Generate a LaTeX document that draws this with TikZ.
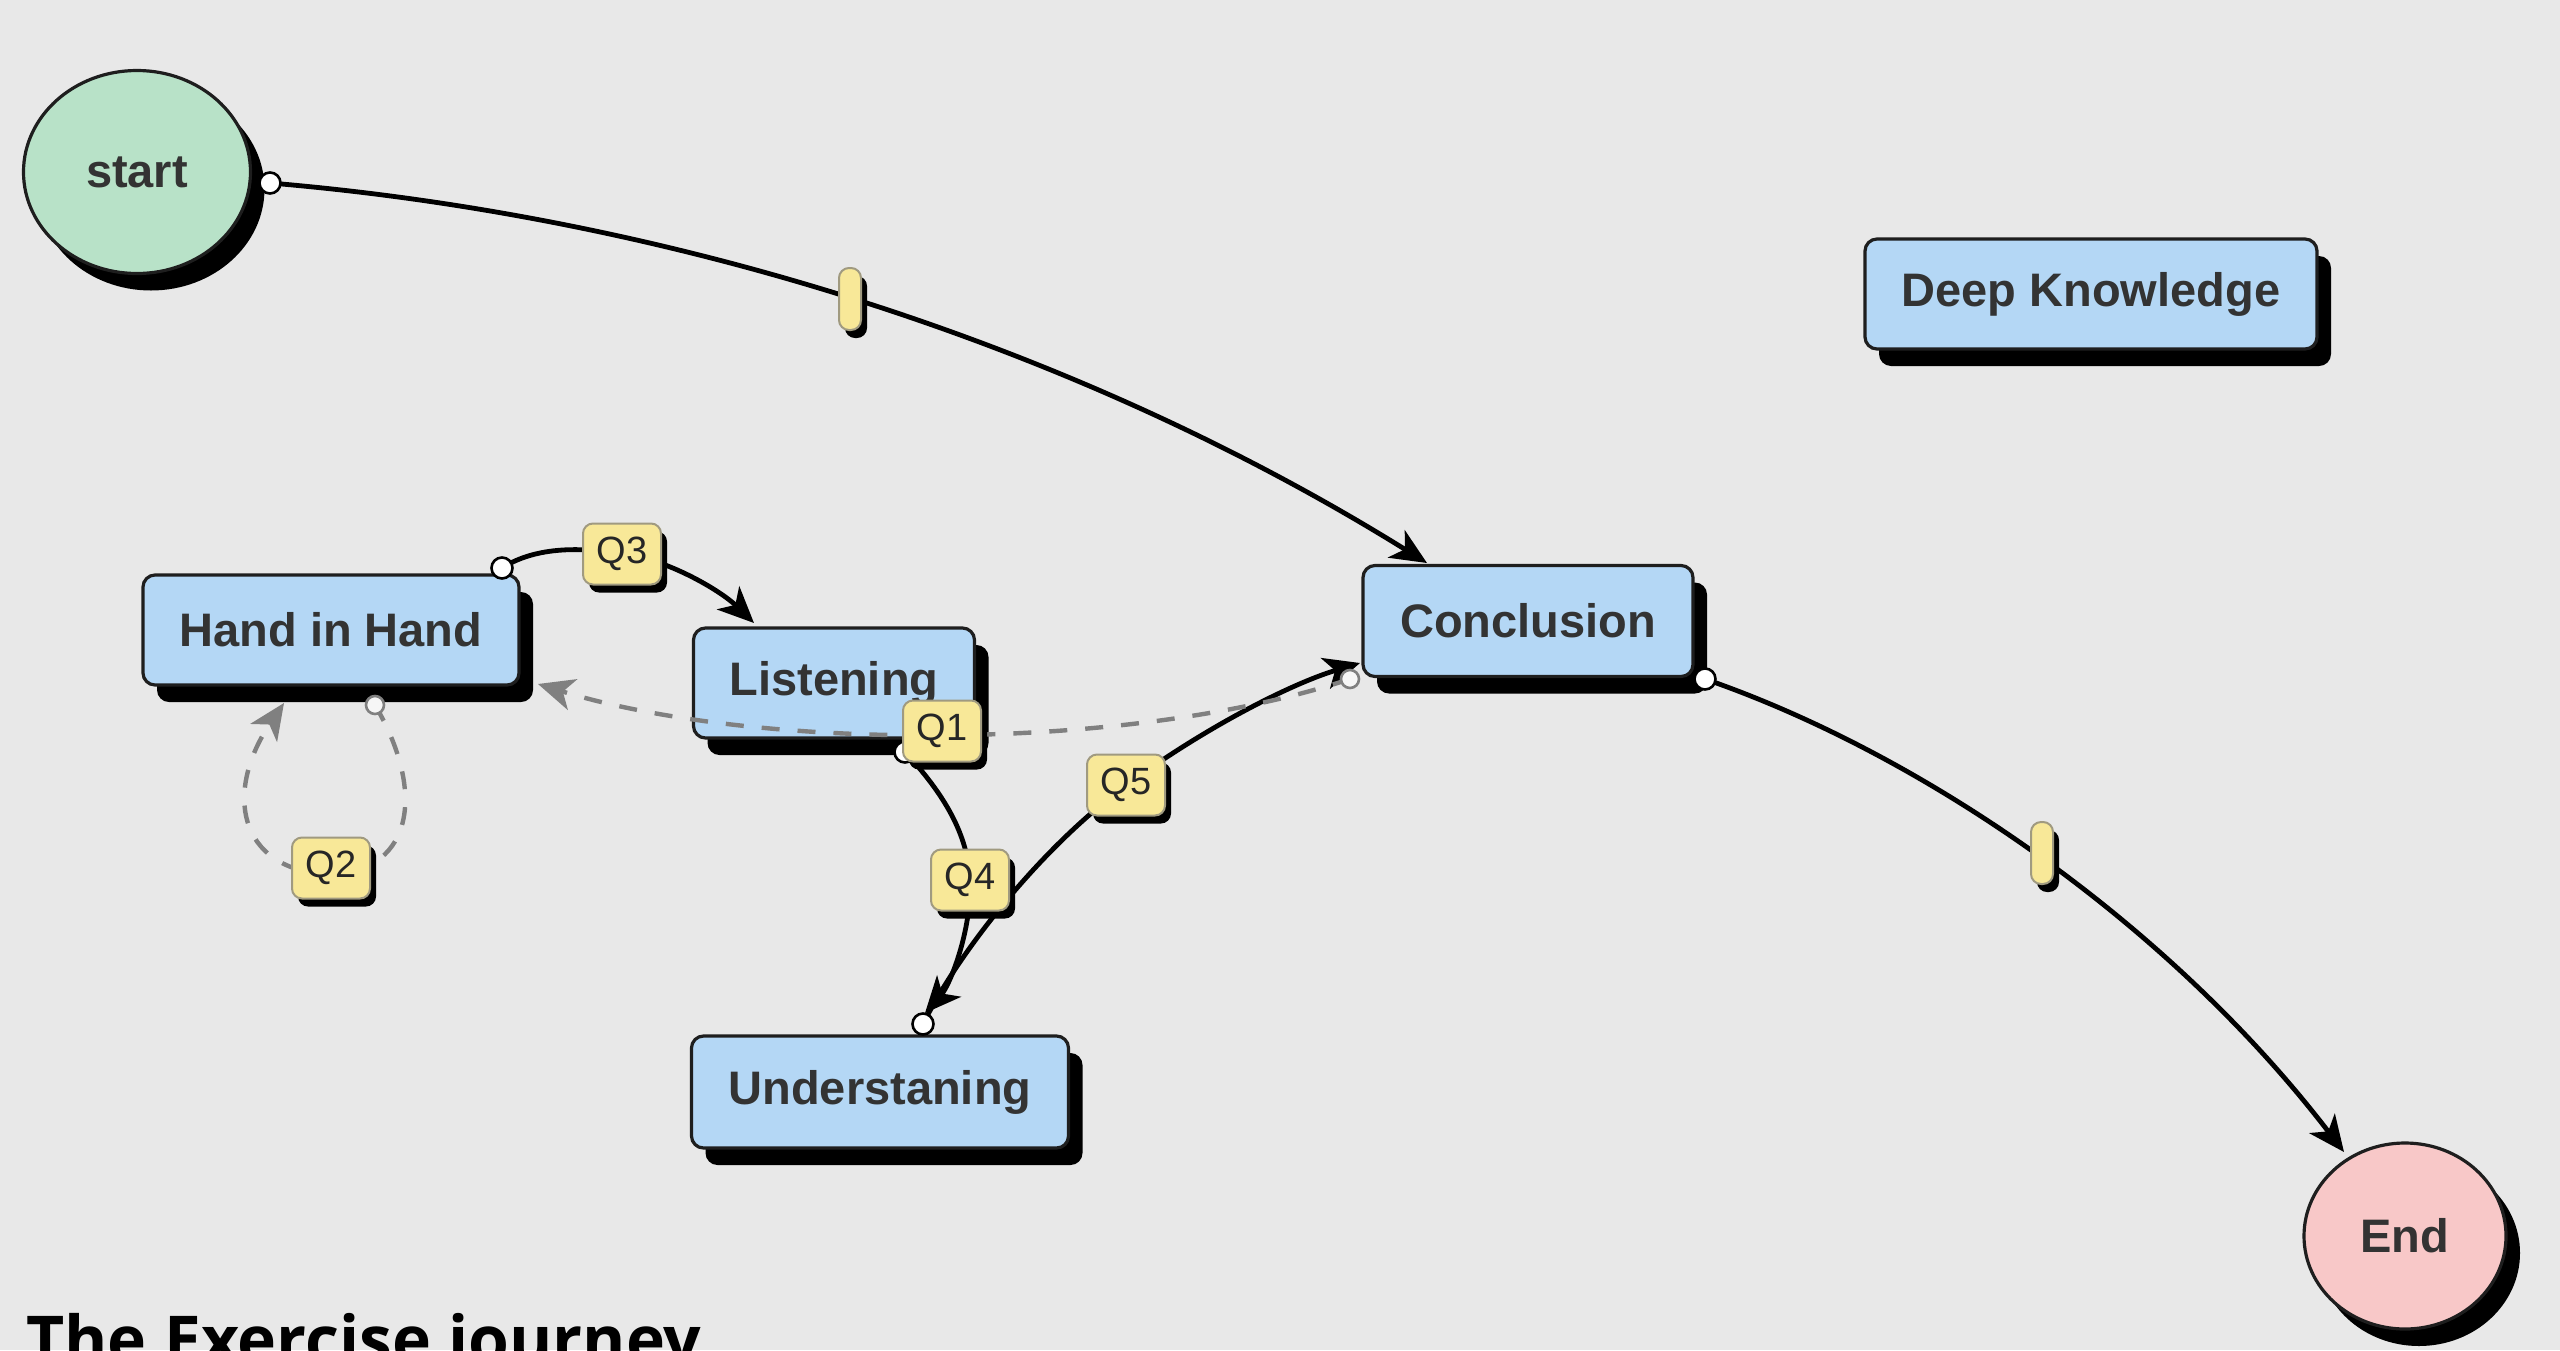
\documentclass[tikz,border=0pt]{standalone}
\usepackage{fontspec}
\setmainfont{Liberation Sans}
\newfontfamily\titlefont{Open Sans}
\usetikzlibrary{shapes.geometric,shadows,arrows.meta}
\definecolor{bg}{HTML}{E8E8E8}
\definecolor{boxfill}{HTML}{B4D7F5}
\definecolor{boxline}{HTML}{1E1E1E}
\definecolor{startfill}{HTML}{B8E2C8}
\definecolor{endfill}{HTML}{F8C8C8}
\definecolor{qfill}{HTML}{F8E898}
\definecolor{qline}{HTML}{A09A80}
\definecolor{txt}{HTML}{333333}
\definecolor{dashgray}{HTML}{808080}
\begin{document}
\begin{tikzpicture}[x=0.5pt,y=-0.5pt,
  shade/.style={drop shadow={shadow xshift=7pt,shadow yshift=-8.5pt,fill=black,opacity=1}},
  smallshade/.style={drop shadow={shadow xshift=3pt,shadow yshift=-4pt,fill=black,opacity=1}},
  box/.style={draw=boxline,line width=1.6pt,fill=boxfill,rounded corners=6pt,inner sep=0pt,
    text=txt,font=\fontsize{23.5}{28}\selectfont\bfseries,shade},
  oval/.style={ellipse,draw=boxline,line width=1.6pt,inner sep=0pt,
    text=txt,font=\fontsize{23.5}{28}\selectfont\bfseries,shade},
  qlab/.style={draw=qline,line width=1pt,fill=qfill,rounded corners=5pt,minimum width=39pt,
    minimum height=30.5pt,inner sep=0pt,font=\fontsize{19}{22}\selectfont,text=black!85,smallshade},
  midtag/.style={draw=qline,line width=1pt,fill=qfill,rounded corners=5pt,minimum width=11pt,
    minimum height=31pt,inner sep=0pt,smallshade},
  edge/.style={draw=black,line width=2.4pt,-{Stealth[length=18pt,width=16pt,inset=5pt]}},
  dedge/.style={draw=dashgray,line width=2.2pt,dash pattern=on 9pt off 9pt,
    -{Stealth[length=18pt,width=16pt,inset=5pt]}},
  dot/.style={circle,draw=black,fill=white,line width=1.3pt,minimum size=10.5pt,inner sep=0pt},
  gdot/.style={circle,draw=dashgray,fill=bg!40!white,line width=1.3pt,minimum size=9pt,inner sep=0pt}
]
\useasboundingbox (0,0) rectangle (2560,1350);
\clip (0,0) rectangle (2560,1350);
\fill[bg] (0,0) rectangle (2560,1350);

% nodes
\node[oval,fill=startfill,minimum width=113.5pt,minimum height=101.5pt] (start) at (137,172) {start};
\node[oval,fill=endfill,minimum width=101pt,minimum height=93pt] (end) at (2405,1236) {End};
\node[box,minimum width=226pt,minimum height=55pt] (deep) at (2091,294) {Deep Knowledge};
\node[box,minimum width=165pt,minimum height=55.5pt] (concl) at (1528,621) {Conclusion};
\node[box,minimum width=188pt,minimum height=55pt] (hand) at (331,630) {Hand in Hand};
\node[box,minimum width=140.5pt,minimum height=55pt] (listen) at (834,683) {Listening};
\node[box,minimum width=188.5pt,minimum height=56pt] (under) at (880,1092) {Understaning};

% connector end points
\coordinate (s1) at (270,183);
\coordinate (t1) at (1427,563);
\coordinate (s2) at (1705,679);
\coordinate (t2) at (2344,1152);
\coordinate (s3) at (502,568);
\coordinate (t3) at (754,623);
\coordinate (s4) at (905,752);
\coordinate (t4) at (925,1013);
\coordinate (s5) at (923,1024);
\coordinate (t5) at (1360,663);
\coordinate (s6) at (1350,679);
\coordinate (t6) at (538,684);
\coordinate (s7) at (375,705);
\coordinate (t7) at (284,703);

% label positions
\coordinate (m1) at (850,299);
\coordinate (m2) at (2042,853);
\coordinate (c1) at (942,731);
\coordinate (c2) at (331,868);
\coordinate (c3) at (622,554);
\coordinate (c4) at (970,880);
\coordinate (c5) at (1126,785);

% connectors
\draw[edge] (s1) .. controls (650,215) and (1060,335) .. (t1);
\draw[edge] (s2) .. controls (1925,755) and (2170,925) .. (t2);
\draw[edge] (s3) .. controls (530,550) and (570,545) .. (c3) .. controls (665,558) and (720,590) .. (t3);
\draw[edge] (s4) .. controls (945,795) and (968,835) .. (c4) .. controls (972,930) and (950,985) .. (t4);
\draw[edge] (s5) .. controls (960,950) and (1040,850) .. (1120,790) .. controls (1200,730) and (1290,684) .. (t5);
\draw[dedge] (s6) .. controls (1130,752) and (760,752) .. (t6);
\draw[dedge] (s7) .. controls (425,790) and (415,870) .. (331,875) .. controls (235,870) and (225,790) .. (t7);

% connector dots
\node[dot] (d1) at (s1) {};
\node[dot] (d2) at (s2) {};
\node[dot] (d3) at (s3) {};
\node[dot] (d4) at (s4) {};
\node[dot] (d5) at (s5) {};
\node[gdot] (d6) at (s6) {};
\node[gdot] (d7) at (s7) {};

% labels
\node[midtag] (mk1) at (m1) {};
\node[midtag] (mk2) at (m2) {};
\node[qlab] (q1) at (c1) {Q1};
\node[qlab] (q2) at (c2) {Q2};
\node[qlab] (q3) at (c3) {Q3};
\node[qlab] (q4) at (c4) {Q4};
\node[qlab] (q5) at (c5) {Q5};

% title (cut off at the lower edge, as in the reference)
\node[anchor=base west,inner sep=0pt,font=\titlefont\bfseries\fontsize{33}{38}\selectfont] (title) at (26,1363) {The Exercise journey};
\end{tikzpicture}
\end{document}
